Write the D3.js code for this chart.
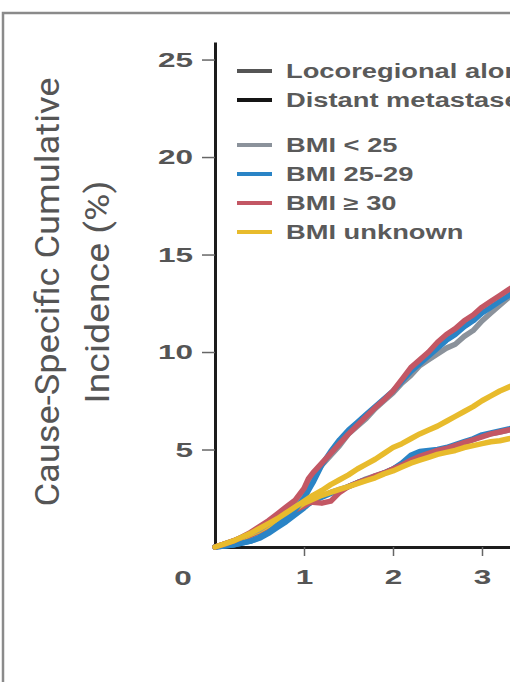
<!DOCTYPE html>
<html lang="en">
<head>
<meta charset="UTF-8">
<script src="https://d3js.org/d3.v7.min.js"></script>
<title>Cause-specific cumulative incidence</title>
<style>
  html, body { margin: 0; padding: 0; background: #fff; }
  svg { display: block; }
</style>
</head>
<body>
<div id="container"></div>
<script>
// years since diagnosis
var years = [0, 0.1, 0.2, 0.3, 0.4, 0.5, 0.6, 0.7, 0.8, 0.9, 1.0, 1.05, 1.1, 1.2, 1.3, 1.4, 1.5, 1.6, 1.7, 1.8, 1.9, 2.0, 2.1, 2.2, 2.3, 2.4, 2.5, 2.6, 2.7, 2.8, 2.9, 3.0, 3.1, 3.2, 3.3, 3.4, 3.5];

// distant metastases (upper bundle), %
var distBmiLow   = [0, 0.15, 0.3, 0.5, 0.7, 0.9, 1.2, 1.5, 1.9, 2.3, 2.9, 3.3, 3.6, 4.2, 4.7, 5.2, 5.8, 6.2, 6.6, 7.1, 7.5, 7.9, 8.4, 8.8, 9.3, 9.6, 9.9, 10.2, 10.4, 10.8, 11.1, 11.6, 12.0, 12.4, 12.8, 13.0, 13.3];
var distBmiMid   = [0, 0.05, 0.1, 0.2, 0.3, 0.5, 0.75, 1.1, 1.5, 1.9, 2.5, 2.9, 3.3, 4.2, 4.9, 5.5, 6.0, 6.4, 6.8, 7.2, 7.6, 8.0, 8.5, 9.0, 9.4, 9.8, 10.2, 10.6, 10.9, 11.3, 11.6, 12.0, 12.3, 12.6, 12.9, 13.2, 13.5];
var distBmiHigh  = [0, 0.15, 0.3, 0.5, 0.75, 1.05, 1.35, 1.7, 2.05, 2.4, 3.0, 3.5, 3.8, 4.3, 4.8, 5.3, 5.8, 6.25, 6.7, 7.15, 7.55, 8.0, 8.6, 9.2, 9.6, 10.0, 10.5, 10.9, 11.2, 11.6, 11.9, 12.3, 12.6, 12.9, 13.2, 13.5, 13.8];
var distBmiUnk   = [0, 0.15, 0.3, 0.5, 0.7, 0.95, 1.2, 1.45, 1.75, 2.05, 2.35, 2.5, 2.65, 2.9, 3.2, 3.45, 3.7, 4.0, 4.25, 4.5, 4.8, 5.1, 5.3, 5.55, 5.8, 6.0, 6.2, 6.45, 6.7, 6.95, 7.2, 7.5, 7.75, 8.0, 8.2, 8.4, 8.6];

// locoregional alone (lower bundle), %
var locoBmiLow   = [0, 0.12, 0.25, 0.4, 0.6, 0.8, 1.05, 1.3, 1.6, 1.9, 2.2, 2.35, 2.45, 2.6, 2.8, 2.95, 3.1, 3.3, 3.5, 3.65, 3.8, 4.0, 4.25, 4.5, 4.7, 4.85, 4.95, 5.05, 5.2, 5.35, 5.5, 5.7, 5.8, 5.9, 6.0, 6.15, 6.3];
var locoBmiMid   = [0, 0.05, 0.1, 0.2, 0.3, 0.45, 0.7, 1.0, 1.3, 1.65, 2.0, 2.2, 2.35, 2.55, 2.75, 2.9, 3.1, 3.3, 3.45, 3.6, 3.8, 4.0, 4.3, 4.7, 4.9, 4.95, 5.0, 5.1, 5.25, 5.4, 5.55, 5.75, 5.85, 5.95, 6.05, 6.2, 6.35];
var locoBmiHigh  = [0, 0.12, 0.25, 0.4, 0.6, 0.8, 1.05, 1.3, 1.6, 1.9, 2.1, 2.25, 2.3, 2.25, 2.35, 2.8, 3.1, 3.3, 3.45, 3.65, 3.8, 4.0, 4.2, 4.45, 4.65, 4.8, 4.95, 5.05, 5.2, 5.35, 5.5, 5.65, 5.8, 5.9, 6.0, 6.1, 6.25];
var locoBmiUnk   = [0, 0.15, 0.3, 0.45, 0.65, 0.85, 1.1, 1.35, 1.65, 1.95, 2.25, 2.35, 2.45, 2.65, 2.8, 2.95, 3.1, 3.25, 3.4, 3.55, 3.75, 3.9, 4.1, 4.3, 4.45, 4.6, 4.75, 4.85, 4.95, 5.1, 5.2, 5.3, 5.4, 5.45, 5.55, 5.65, 5.75];

var yTicks = [5, 10, 15, 20, 25];
var xTicks = [1, 2, 3];

var legendLabels = ["Locoregional alone", "Distant metastases", "BMI < 25", "BMI 25-29", "BMI \u2265 30", "BMI unknown"];
var legendColors = ["#555555", "#151515", "#8b929b", "#2a84c6", "#c35764", "#e8bb2c"];

var series = [
  { name: "BMI < 25",   color: "#8b929b", values: locoBmiLow },
  { name: "BMI 25-29",  color: "#2a84c6", values: locoBmiMid },
  { name: "BMI >= 30",  color: "#c35764", values: locoBmiHigh },
  { name: "BMI unknown",color: "#e8bb2c", values: locoBmiUnk },
  { name: "BMI < 25",   color: "#8b929b", values: distBmiLow },
  { name: "BMI 25-29",  color: "#2a84c6", values: distBmiMid },
  { name: "BMI >= 30",  color: "#c35764", values: distBmiHigh },
  { name: "BMI unknown",color: "#e8bb2c", values: distBmiUnk }
];

var width = 510, height = 682;

var svg = d3.select("#container").append("svg")
  .attr("width", width)
  .attr("height", height);

// outer frame of the figure panel
svg.append("rect")
  .attr("x", 3).attr("y", 13)
  .attr("width", 700).attr("height", 900)
  .attr("fill", "none")
  .attr("stroke", "#8a8a8a")
  .attr("stroke-width", 2.5);

var x = d3.scaleLinear().domain([0, 3.5]).range([215, 215 + 89 * 3.5]);
var y = d3.scaleLinear().domain([0, 25.9]).range([547, 42]);

var textColor = "#555";
var sx = 1.5; // glyphs in the figure are stretched horizontally

// y axis
var yAxis = svg.append("g")
  .attr("transform", "translate(215,0)")
  .call(d3.axisLeft(y).tickValues(yTicks).tickSize(13).tickSizeOuter(0).tickFormat(d3.format("d")));
yAxis.select(".domain").attr("stroke", "#1c1c1c").attr("stroke-width", 3);
yAxis.selectAll(".tick line").attr("stroke", "#666").attr("stroke-width", 1.5);
yAxis.selectAll(".tick text")
  .attr("x", -22 / sx)
  .attr("transform", "scale(" + sx + ",1)")
  .attr("fill", textColor)
  .style("font-family", "'Liberation Sans', Arial, sans-serif")
  .style("font-size", "21px")
  .style("font-weight", "bold");

// x axis
var xAxis = svg.append("g")
  .attr("transform", "translate(0,547)")
  .call(d3.axisBottom(x).tickValues(xTicks).tickSize(9).tickSizeOuter(0).tickFormat(d3.format("d")));
xAxis.select(".domain").attr("stroke", "#1c1c1c").attr("stroke-width", 3);
xAxis.selectAll(".tick line").attr("stroke", "#666").attr("stroke-width", 1.5);
xAxis.selectAll(".tick text")
  .attr("y", 22.5)
  .attr("transform", "scale(" + sx + ",1)")
  .attr("fill", textColor)
  .style("font-family", "'Liberation Sans', Arial, sans-serif")
  .style("font-size", "21px")
  .style("font-weight", "bold");

// shared origin label
svg.append("text")
  .attr("transform", "translate(" + (x(0) - 32) + "," + (y(0) + 30) + ") scale(" + sx + ",1)")
  .attr("text-anchor", "middle")
  .attr("dy", "0.36em")
  .attr("fill", textColor)
  .style("font-family", "'Liberation Sans', Arial, sans-serif")
  .style("font-size", "21px")
  .style("font-weight", "bold")
  .text("0");

// y title
var titleLines = ["Cause-Specific Cumulative", "Incidence (%)"];
var titleX = [59, 109];
var titleLen = [429, 223];
svg.selectAll(".ytitle").data(titleLines).enter().append("text")
  .attr("class", "ytitle")
  .attr("transform", function(d, i) { return "translate(" + titleX[i] + ",292) rotate(-90)"; })
  .attr("text-anchor", "middle")
  .attr("textLength", function(d, i) { return titleLen[i]; })
  .attr("lengthAdjust", "spacingAndGlyphs")
  .attr("fill", textColor)
  .style("font-family", "Roboto, sans-serif")
  .style("font-size", "33px")
  .text(function(d) { return d; });

// curves
var line = d3.line()
  .x(function(d, i) { return x(years[i]); })
  .y(function(d) { return y(d); });

svg.append("g").selectAll("path")
  .data(series)
  .enter().append("path")
  .attr("d", function(d) { return line(d.values); })
  .attr("fill", "none")
  .attr("stroke", function(d) { return d.color; })
  .attr("stroke-width", 5.5)
  .attr("stroke-linejoin", "round")
  .attr("stroke-linecap", "round");

// legend
var legendY = [71, 100, 145, 174, 203, 232];
var legend = svg.append("g");
legend.selectAll("line").data(legendLabels).enter().append("line")
  .attr("x1", 237).attr("x2", 272)
  .attr("y1", function(d, i) { return legendY[i]; })
  .attr("y2", function(d, i) { return legendY[i]; })
  .attr("stroke", function(d, i) { return legendColors[i]; })
  .attr("stroke-width", 4);
legend.selectAll("text").data(legendLabels).enter().append("text")
  .attr("transform", function(d, i) { return "translate(286," + legendY[i] + ") scale(1.4,1)"; })
  .attr("dy", "0.36em")
  .attr("fill", "#5a5a5a")
  .style("font-family", "'Liberation Sans', Arial, sans-serif")
  .style("font-size", "19.5px")
  .style("font-weight", "bold")
  .text(function(d) { return d; });
</script>
</body>
</html>
